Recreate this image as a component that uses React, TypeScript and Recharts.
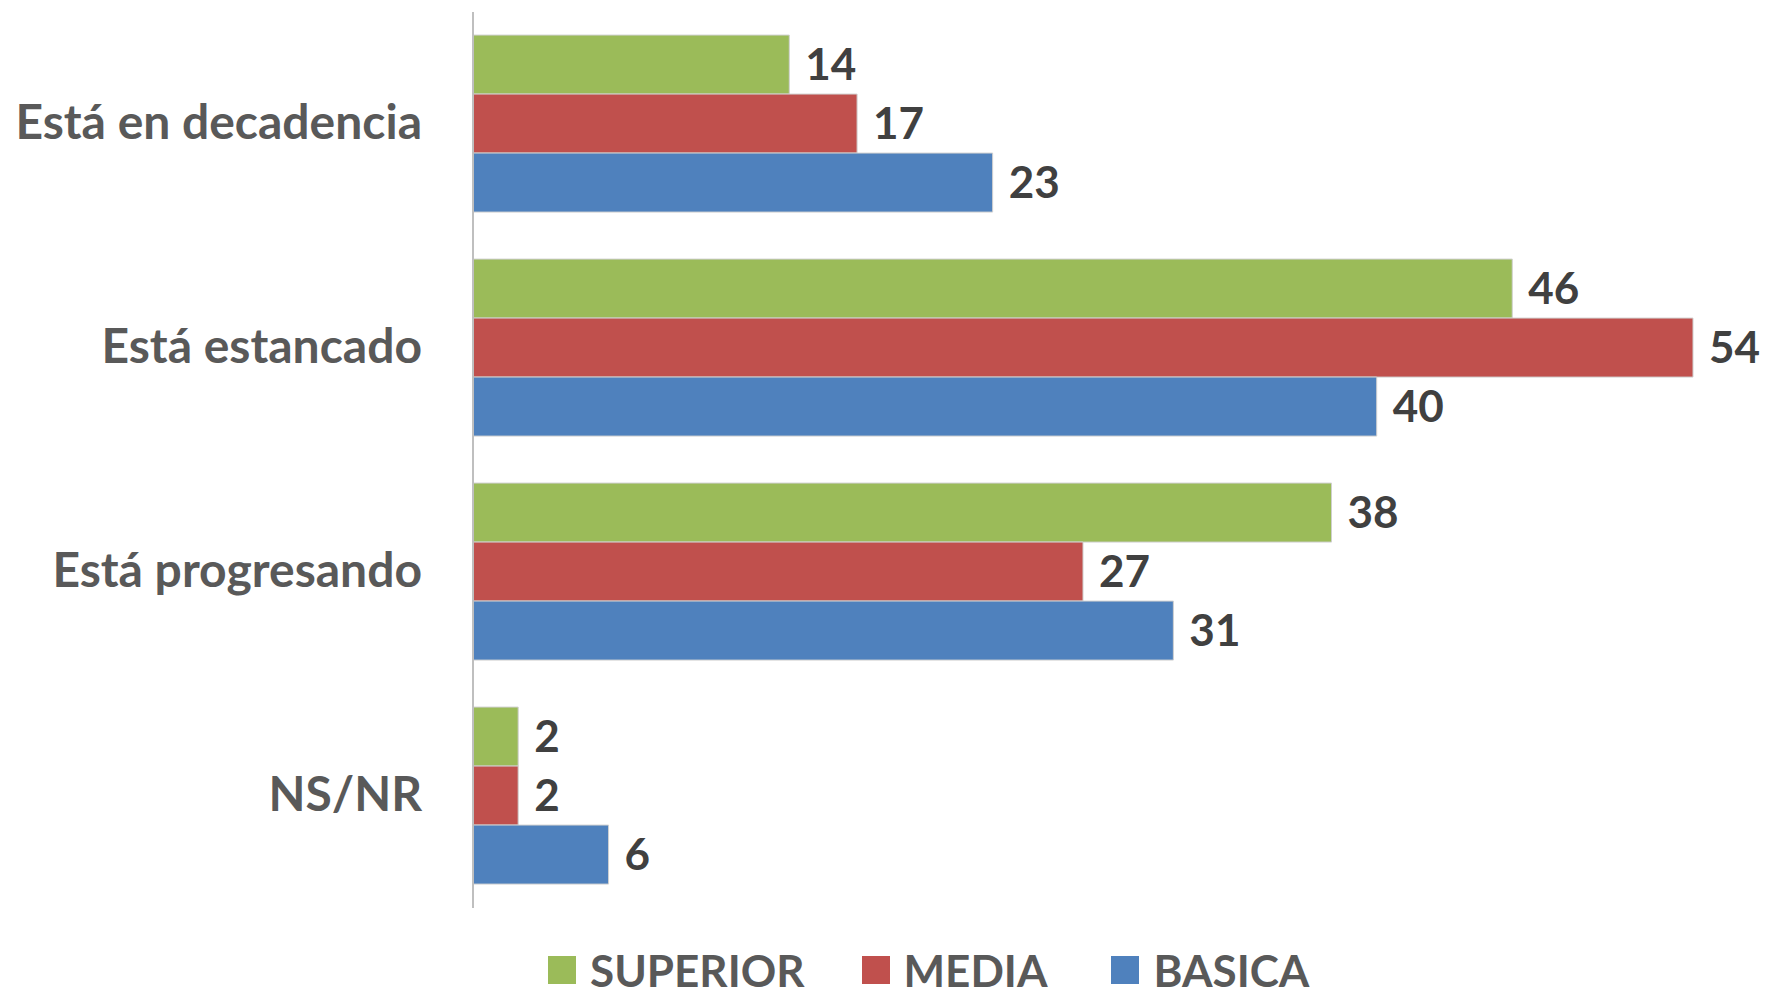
import React from 'react';
import { BarChart, Bar, XAxis, YAxis, Legend, LabelList } from 'recharts';

const categories = ['Está en decadencia', 'Está estancado', 'Está progresando', 'NS/NR'];
const superior = [14, 46, 38, 2];
const media = [17, 54, 27, 2];
const basica = [23, 40, 31, 6];

const seriesInfo = [
  { key: 'superior', name: 'SUPERIOR', color: '#9BBB59' },
  { key: 'media', name: 'MEDIA', color: '#C0504D' },
  { key: 'basica', name: 'BASICA', color: '#4F81BD' },
];

const data = categories.map((c, i) => ({
  category: c,
  superior: superior[i],
  media: media[i],
  basica: basica[i],
}));

const FONT = 'Lato, "Open Sans", sans-serif';

const CategoryTick = (props: any) => {
  const { x, y, payload } = props;
  return (
    <text
      x={x - 43}
      y={y - 4}
      textAnchor="end"
      dominantBaseline="central"
      fontFamily={FONT}
      fontWeight={700}
      fontSize={48}
      fill="#595959"
    >
      {payload.value}
    </text>
  );
};

const legendGaps = [57, 64, 0];

const renderLegend = () => (
  <div
    style={{
      display: 'flex',
      alignItems: 'center',
      height: 50,
      paddingLeft: 548,
      fontFamily: FONT,
      fontWeight: 700,
      fontSize: 44,
      lineHeight: '50px',
      color: '#595959',
    }}
  >
    {seriesInfo.map((s, i) => (
      <div key={s.key} style={{ display: 'flex', alignItems: 'center', marginRight: legendGaps[i] }}>
        <div style={{ width: 28, height: 28, background: s.color, marginRight: 14 }} />
        <span>{s.name}</span>
      </div>
    ))}
  </div>
);

export default function App() {
  return (
    <div style={{ position: 'absolute', left: 0, top: 0, width: 1766, height: 993, background: '#fff' }}>
      <BarChart
        width={1766}
        height={993}
        data={data}
        layout="vertical"
        margin={{ top: 12, right: 73, left: 0, bottom: 35 }}
        barCategoryGap="10.3%"
        barGap={0}
      >
        <XAxis type="number" domain={[0, 54]} hide />
        <YAxis
          type="category"
          dataKey="category"
          width={473}
          tickLine={false}
          axisLine={{ stroke: '#BFBFBF', strokeWidth: 2 }}
          tick={<CategoryTick />}
        />
        <Legend
          content={renderLegend}
          wrapperStyle={{ top: 945, bottom: 'auto', left: 0, width: 1766, height: 50 }}
        />
        {seriesInfo.map((s) => (
          <Bar
            key={s.key}
            dataKey={s.key}
            name={s.name}
            fill={s.color}
            stroke="#d0d0d0"
            strokeWidth={1}
            isAnimationActive={false}
          >
            <LabelList
              dataKey={s.key}
              position="right"
              offset={16}
              fill="#404040"
              fontFamily={FONT}
              fontWeight={700}
              fontSize={44}
            />
          </Bar>
        ))}
      </BarChart>
    </div>
  );
}
